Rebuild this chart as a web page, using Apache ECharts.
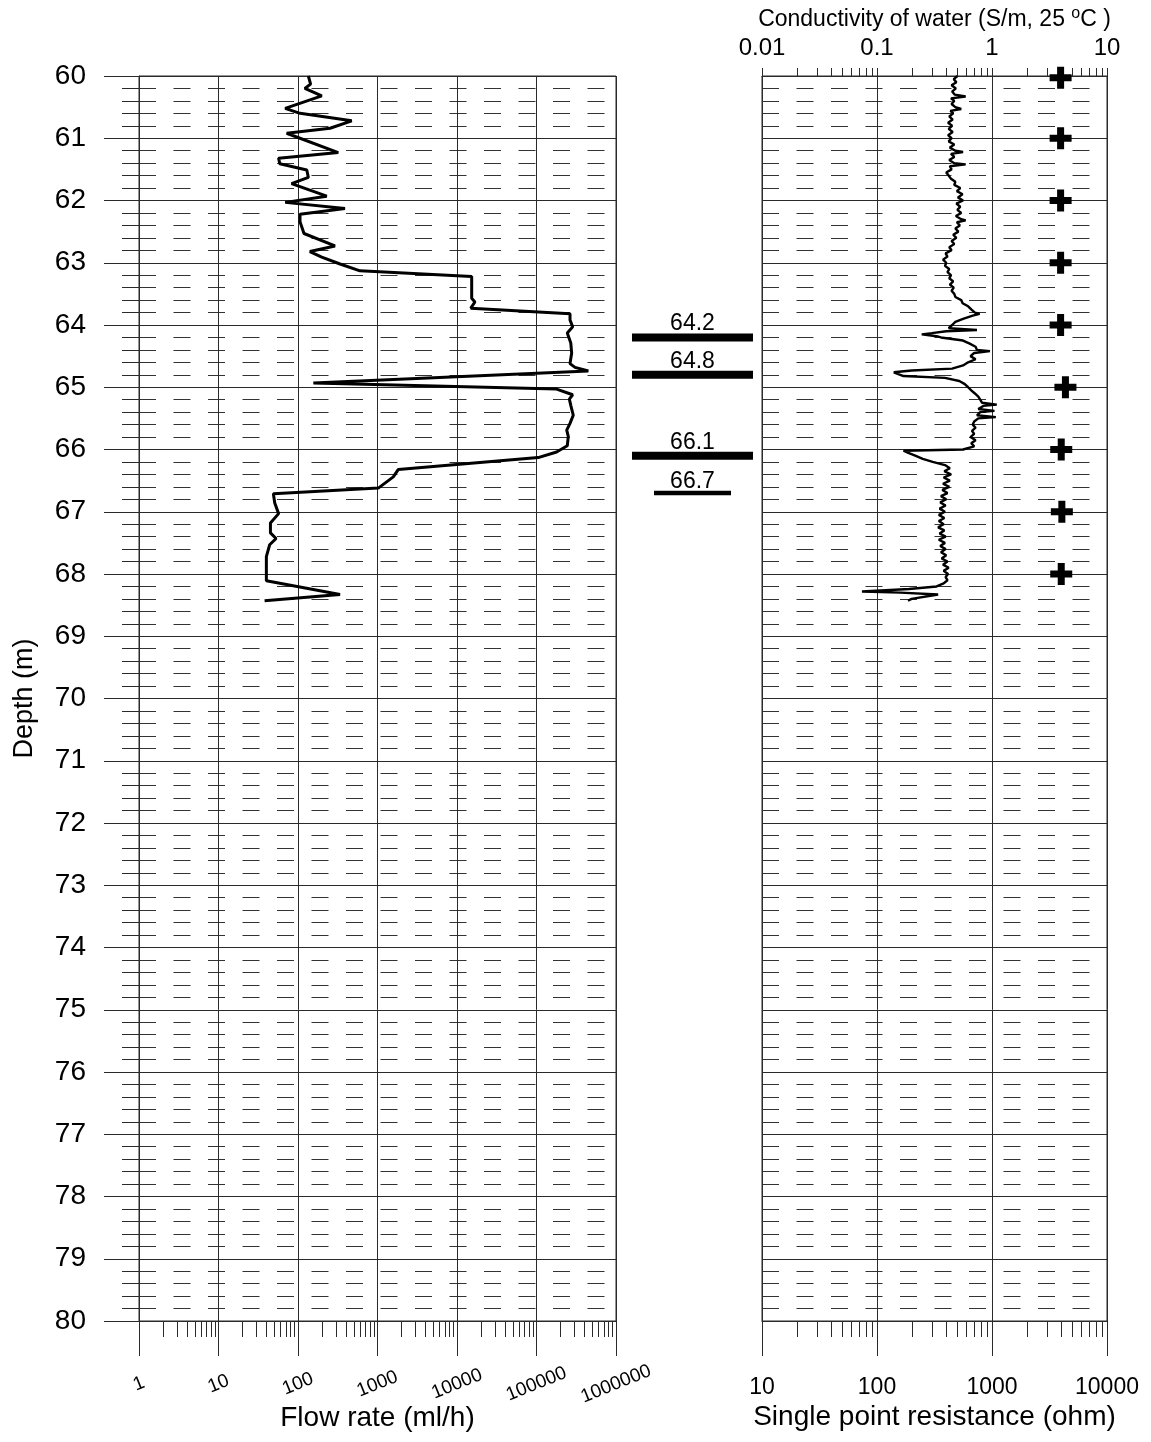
<!DOCTYPE html>
<html>
<head>
<meta charset="utf-8">
<script src="https://cdn.jsdelivr.net/npm/echarts@6/dist/echarts.min.js"></script>
<style>
  html, body { margin: 0; padding: 0; background: #fff; }
  #chart { width: 1151px; height: 1442px; }
</style>
</head>
<body>
<div id="chart"></div>
<script>
// ---- Flow log (ml/h) against depth (m) ----
const flowDepth = [60.00,60.13,60.20,60.32,60.52,60.60,60.72,60.84,60.92,61.23,
  61.32,61.41,61.51,61.63,61.73,61.93,62.03,62.13,62.22,62.34,
  62.53,62.73,62.82,62.91,63.02,63.13,63.22,63.57,63.63,63.73,
  63.82,63.92,64.03,64.13,64.29,64.45,64.62,64.68,64.74,64.93,
  65.03,65.12,65.19,65.29,65.45,65.58,65.69,65.79,65.94,66.04,
  66.13,66.32,66.44,66.62,66.71,66.86,67.03,67.18,67.34,67.43,
  67.53,67.72,68.11,68.33,68.43];
const flowRate = [135,144,122,199,69,106,474,253,72,321,
  57,59,129,135,83,230,69,390,106,106,
  119,292,141,199,338,602,15300,15300,16800,14900,
  264000,264000,285000,244000,270000,277000,264000,305000,449000,156,
  179000,285000,259000,270000,290000,264000,240000,251000,244000,179000,
  105000,1830,1580,1023,49,51,57,45,45,53,
  44,40,40,338,38];

// ---- Single point resistance (ohm) against depth (m) ----
const spDepth = [60.00,60.05,60.10,60.15,60.20,60.25,60.30,60.33,60.36,60.40,
  60.45,60.50,60.53,60.56,60.60,60.65,60.70,60.75,60.80,60.85,
  60.90,60.95,61.00,61.05,61.10,61.15,61.20,61.22,61.25,61.30,
  61.35,61.40,61.42,61.45,61.50,61.55,61.60,61.65,61.70,61.75,
  61.80,61.85,61.90,61.95,62.00,62.05,62.10,62.15,62.20,62.25,
  62.30,62.32,62.35,62.40,62.45,62.50,62.55,62.60,62.65,62.70,
  62.75,62.80,62.85,62.90,62.95,63.00,63.05,63.10,63.15,63.20,
  63.25,63.30,63.35,63.40,63.45,63.50,63.55,63.60,63.65,63.70,
  63.75,63.80,63.82,63.85,63.90,63.95,64.00,64.05,64.08,64.10,
  64.13,64.15,64.18,64.20,64.25,64.30,64.35,64.40,64.42,64.45,
  64.50,64.55,64.60,64.65,64.70,64.73,64.76,64.79,64.82,64.85,
  64.90,64.95,65.00,65.05,65.10,65.15,65.20,65.25,65.28,65.30,
  65.35,65.38,65.40,65.45,65.48,65.50,65.55,65.60,65.65,65.70,
  65.75,65.80,65.85,65.90,65.95,66.00,66.02,66.05,66.10,66.15,
  66.20,66.25,66.30,66.35,66.40,66.45,66.50,66.55,66.60,66.65,
  66.70,66.75,66.80,66.85,66.90,66.95,67.00,67.05,67.10,67.15,
  67.20,67.25,67.30,67.35,67.40,67.45,67.50,67.55,67.60,67.65,
  67.70,67.75,67.80,67.85,67.90,67.95,68.00,68.05,68.10,68.15,
  68.20,68.24,68.28,68.30,68.33,68.36,68.40,68.43];
const spOhm = [500,465,490,445,485,450,475,590,440,470,
  445,480,540,435,460,425,455,415,450,420,
  455,415,445,420,470,430,480,560,440,470,
  425,470,590,430,445,400,420,440,480,470,
  530,495,555,505,560,490,530,500,540,485,
  540,590,495,525,480,510,460,490,445,470,
  425,445,395,410,375,400,390,425,410,440,
  425,460,430,465,445,470,480,540,555,620,
  660,710,780,680,560,480,450,420,740,400,
  300,245,330,360,560,640,720,740,960,700,
  650,720,620,560,450,200,140,135,170,390,
  520,580,620,660,710,760,790,820,1100,840,
  760,1050,790,740,1080,760,700,680,720,670,
  700,650,720,660,700,560,170,185,215,250,
  305,390,430,385,440,380,430,375,425,370,
  410,360,400,355,395,350,390,345,385,345,
  380,340,385,350,395,345,390,355,395,360,
  400,365,410,375,420,380,415,395,410,380,
  330,190,74,160,340,330,200,186];

// ---- Water conductivity (S/m, 25 °C) against depth (m) ----
const condDepth = [60.03,61,62,63,64,65,66,67,68];
const condValue = [3.95,3.95,3.95,3.95,3.95,4.35,4.0,4.05,4.0];

// ---- Flowing fracture depths (m) ----
const fractureMajor = [64.2, 64.8, 66.1];
const fractureMinor = [66.7];

// ---- Tick labels ----
const flowTickLabels = ['1','10','100','1000','10000','100000','1000000'];
const resistanceTickLabels = ['10','100','1000','10000'];
const conductivityTickLabels = ['0.01','0.1','1','10'];

const FONT = '"Liberation Sans", Arial, Helvetica, sans-serif';
const INK = '#000';
const GRID_INK = '#2a2a2a';

function zip(a, b) { return a.map((v, i) => [v, b[i]]); }

// 2..9 times each power of ten inside [lo, hi)
function logMinorTicks(lo, hi) {
  const out = [];
  const e0 = Math.round(Math.log10(lo)), e1 = Math.round(Math.log10(hi));
  for (let e = e0; e < e1; e++) {
    for (let k = 2; k <= 9; k++) out.push(+(k * Math.pow(10, e)).toPrecision(6));
  }
  return out;
}

// short tick marks on a log axis, hung from the given depth edge
function minorTickSeries(xAxisIndex, yAxisIndex, values, edgeDepth, len) {
  return {
    type: 'custom', xAxisIndex, yAxisIndex, clip: false, silent: true, z: 6,
    data: values.map(v => [v, edgeDepth]),
    encode: { x: 0, y: 1 },
    renderItem: (params, api) => {
      const p = api.coord([api.value(0), api.value(1)]);
      const x = Math.round(p[0]) + 0.5, y = Math.round(p[1]);
      return { type: 'line', shape: { x1: x, y1: y, x2: x, y2: y + len },
               style: { stroke: GRID_INK, lineWidth: 1 } };
    }
  };
}

// horizontal fracture bars with their depth written on top
function fractureSeries(depths, inset, thick) {
  return {
    type: 'custom', xAxisIndex: 3, yAxisIndex: 2, clip: false, silent: true, z: 8,
    data: depths.map(d => [0.5, d]),
    encode: { x: 0, y: 1 },
    renderItem: (params, api) => {
      const cs = params.coordSys;
      const d = api.value(1);
      const y = api.coord([0.5, d])[1];
      const top = y - thick / 2;
      return {
        type: 'group',
        children: [
          { type: 'rect', shape: { x: cs.x + inset, y: top, width: cs.width - 2 * inset, height: thick },
            style: { fill: INK } },
          { type: 'text', style: { text: d.toFixed(1), x: cs.x + cs.width / 2, y: top + 2,
              align: 'center', verticalAlign: 'bottom', fontSize: 23, fontFamily: FONT, fill: INK } }
        ]
      };
    }
  };
}

const depthAxisCommon = {
  type: 'value', inverse: true, min: 60, max: 80, interval: 1,
  splitLine: { show: true, lineStyle: { color: GRID_INK, width: 1 } },
  minorSplitLine: { show: true, lineStyle: { color: '#333', width: 1, type: [17, 17.5] } }
};

const plusPath = 'path://M7.5,0H14.5V7.5H22V14.5H14.5V22H7.5V14.5H0V7.5H7.5Z';

const chart = echarts.init(document.getElementById('chart'), null, { renderer: 'canvas' });
chart.setOption({
  animation: false,
  backgroundColor: '#fff',
  textStyle: { fontFamily: FONT, color: INK },
  grid: [
    { left: 139, top: 76, width: 477, height: 1245, outerBoundsMode: 'none', containLabel: false,
      show: true, borderColor: GRID_INK, borderWidth: 1 },
    { left: 762, top: 76, width: 345, height: 1245, outerBoundsMode: 'none', containLabel: false,
      show: true, borderColor: GRID_INK, borderWidth: 1 },
    { left: 632, top: 76, width: 121, height: 1245, outerBoundsMode: 'none', containLabel: false, show: false }
  ],
  xAxis: [
    {
      gridIndex: 0, type: 'log', logBase: 10, min: 1, max: 1e6, position: 'bottom',
      axisLine: { show: true, lineStyle: { color: GRID_INK } },
      axisTick: { show: true, length: 35, lineStyle: { color: GRID_INK } },
      splitLine: { show: true, lineStyle: { color: GRID_INK } },
      axisLabel: {
        rotate: 22, align: 'center', verticalAlign: 'middle', margin: 63,
        fontSize: 19, color: INK, fontFamily: FONT, showMinLabel: true, showMaxLabel: true,
        formatter: (v, i) => flowTickLabels[i] !== undefined ? flowTickLabels[i] : String(v)
      },
      name: 'Flow rate (ml/h)', nameLocation: 'middle', nameGap: 97, nameMoveOverlap: false,
      nameTextStyle: { fontSize: 28, color: INK, fontFamily: FONT, verticalAlign: 'middle' }
    },
    {
      gridIndex: 1, type: 'log', logBase: 10, min: 10, max: 10000, position: 'bottom',
      axisLine: { show: true, lineStyle: { color: GRID_INK } },
      axisTick: { show: true, length: 35, lineStyle: { color: GRID_INK } },
      splitLine: { show: true, lineStyle: { color: GRID_INK } },
      axisLabel: {
        verticalAlign: 'middle', margin: 67, fontSize: 23, color: INK, fontFamily: FONT,
        showMinLabel: true, showMaxLabel: true,
        formatter: (v, i) => resistanceTickLabels[i] !== undefined ? resistanceTickLabels[i] : String(v)
      },
      name: 'Single point resistance (ohm)', nameLocation: 'middle', nameGap: 96, nameMoveOverlap: false,
      nameTextStyle: { fontSize: 28, color: INK, fontFamily: FONT, verticalAlign: 'middle' }
    },
    {
      gridIndex: 1, type: 'log', logBase: 10, min: 0.01, max: 10, position: 'top',
      axisLine: { show: true, lineStyle: { color: GRID_INK } },
      axisTick: { show: true, length: 8, lineStyle: { color: GRID_INK } },
      splitLine: { show: false },
      axisLabel: {
        verticalAlign: 'middle', margin: 28, fontSize: 24, color: INK, fontFamily: FONT,
        showMinLabel: true, showMaxLabel: true,
        formatter: (v, i) => conductivityTickLabels[i] !== undefined ? conductivityTickLabels[i] : String(v)
      },
      name: 'Conductivity of water (S/m, 25 {sup|o}C )', nameLocation: 'middle', nameGap: 56,
      nameMoveOverlap: false,
      nameTextStyle: {
        fontSize: 23, lineHeight: 28, color: INK, fontFamily: FONT, verticalAlign: 'middle',
        rich: { sup: { fontSize: 16, lineHeight: 16, fontFamily: FONT, color: INK, verticalAlign: 'top' } }
      }
    },
    { gridIndex: 2, type: 'value', min: 0, max: 1, show: false }
  ],
  yAxis: [
    Object.assign({}, depthAxisCommon, {
      gridIndex: 0,
      axisLine: { show: true, lineStyle: { color: GRID_INK } },
      axisTick: { show: true, length: 35, lineStyle: { color: GRID_INK } },
      minorTick: { show: true, splitNumber: 5, length: 17, lineStyle: { color: GRID_INK } },
      axisLabel: { fontSize: 28, margin: 53, color: INK, fontFamily: FONT },
      name: 'Depth (m)', nameLocation: 'middle', nameGap: 114, nameMoveOverlap: false,
      nameTextStyle: { fontSize: 27, color: INK, fontFamily: FONT, verticalAlign: 'middle' }
    }),
    Object.assign({}, depthAxisCommon, {
      gridIndex: 1,
      axisLine: { show: true, lineStyle: { color: GRID_INK } },
      axisTick: { show: false },
      minorTick: { show: false, splitNumber: 5 },
      axisLabel: { show: false }
    }),
    { gridIndex: 2, type: 'value', inverse: true, min: 60, max: 80, show: false }
  ],
  series: [
    {
      name: 'Flow rate', type: 'line', xAxisIndex: 0, yAxisIndex: 0,
      data: zip(flowRate, flowDepth), showSymbol: false, symbol: 'none',
      lineStyle: { color: INK, width: 3 }, z: 10
    },
    {
      name: 'Single point resistance', type: 'line', xAxisIndex: 1, yAxisIndex: 1,
      data: zip(spOhm, spDepth), showSymbol: false, symbol: 'none',
      lineStyle: { color: INK, width: 2.4 }, z: 10
    },
    {
      name: 'Conductivity', type: 'scatter', xAxisIndex: 2, yAxisIndex: 1,
      data: zip(condValue, condDepth), symbol: plusPath, symbolSize: 22,
      itemStyle: { color: INK, opacity: 1 }, clip: false, z: 11
    },
    minorTickSeries(0, 0, logMinorTicks(1, 1e6), 80, 16),
    minorTickSeries(1, 1, logMinorTicks(10, 10000), 80, 16),
    minorTickSeries(2, 1, logMinorTicks(0.01, 10), 60, -8),
    fractureSeries(fractureMajor, 0, 8),
    fractureSeries(fractureMinor, 22, 4.5)
  ]
});
</script>
</body>
</html>
